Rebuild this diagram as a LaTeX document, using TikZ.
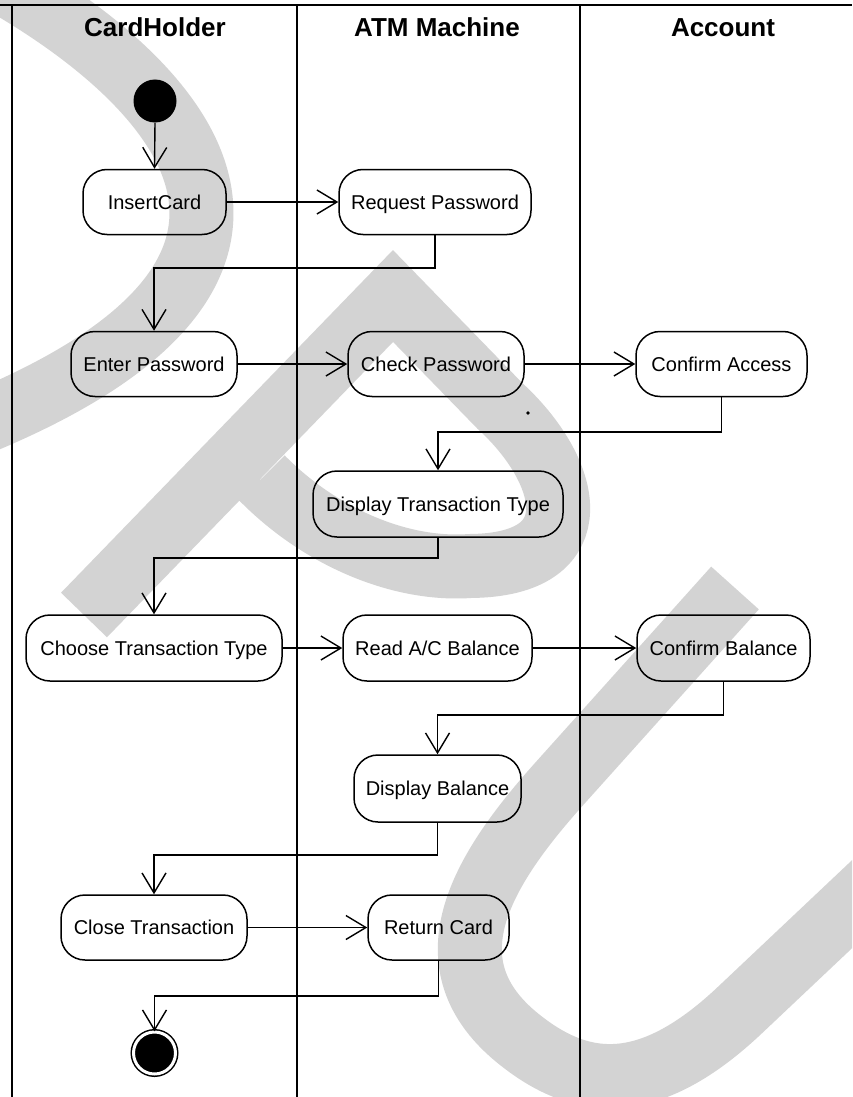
\documentclass[tikz,border=0pt]{standalone}
\usepackage{fontspec}
\setmainfont{Liberation Sans}
\usetikzlibrary{arrows.meta}
\definecolor{wmgray}{RGB}{211,211,211}
\begin{document}
\begin{tikzpicture}[x=1pt,y=-1pt,
  lane/.style={line width=1.4pt},
  act/.style={draw, line width=1.5pt, rounded corners=24pt, minimum height=65pt,
    inner sep=0pt, text height=15pt, text depth=1pt,
    font=\fontsize{20}{24}\selectfont},
  flow/.style={line width=1.4pt, -{Straight Barb[length=20pt,width=24pt]}},
  head/.style={font=\fontsize{26}{30}\selectfont\bfseries, anchor=base},
  wm/.style={line width=64pt, draw=wmgray, line cap=butt, line join=miter}
]
\useasboundingbox (0,0) rectangle (852,1097);

% light grey lettering in the background
\begin{scope}
  \clip (0,0) rectangle (852,1097);
  \draw[wm] (-10,-25) .. controls (180,80) and (360,270) .. (-30,427);
  \draw[wm] (84,615) -- (393,296) -- (500,406)
     .. controls (570,470) and (595,565) .. (470,566)
     .. controls (400,571) and (320,537) .. (262,478);
  \draw[wm] (735,588) -- (560,783)
     .. controls (480,872) and (425,965) .. (520,1040)
     .. controls (583,1090) and (650,1095) .. (740,1010) -- (920,840);
\end{scope}

% swimlane frame
\draw[line width=1.3pt] (0,5) -- (852,5);
\draw[line width=2.5pt] (12,5) -- (12,1097);
\draw[lane] (297,5) -- (297,1097);
\draw[lane] (580,5) -- (580,1097);

% lane titles
\node[head] (h1) at (155,37) {CardHolder};
\node[head] (h2) at (437,37) {ATM Machine};
\node[head] (h3) at (723,37) {Account};

% initial and final states
\node[circle, fill=black, minimum size=43pt, inner sep=0pt] (start) at (155,101) {};
\node[circle, fill=black, draw=black, line width=1.5pt, double=white,
  double distance=3pt, minimum size=42pt, inner sep=0pt] (end) at (154.5,1053) {};

% activities
\node[act, minimum width=143pt] (insert)   at (154.5,202) {InsertCard};
\node[act, minimum width=192pt] (request)  at (435,202)   {Request Password};
\node[act, minimum width=166pt] (enter)    at (154,364)   {Enter Password};
\node[act, minimum width=176pt] (check)    at (436,364)   {Check Password};
\node[act, minimum width=171pt] (confirmA) at (721.5,364) {Confirm Access};
\node[act, minimum width=250pt, minimum height=66pt] (dtt) at (438,504) {Display Transaction Type};
\node[act, minimum width=256pt, minimum height=66pt] (choose) at (154,648) {Choose Transaction Type};
\node[act, minimum width=189pt, minimum height=66pt] (read) at (437.5,648) {Read A/C Balance};
\node[act, minimum width=173pt, minimum height=66pt] (confirmB) at (723.5,648) {Confirm Balance};
\node[act, minimum width=167pt, minimum height=67pt] (dbal) at (437.5,788.5) {Display Balance};
\node[act, minimum width=186pt] (close)    at (154,927.5) {Close Transaction};
\node[act, minimum width=141pt] (ret)      at (438.5,927.5) {Return Card};

% bend levels of the routed flows
\coordinate (k1) at (0,268);
\coordinate (k2) at (0,432);
\coordinate (k3) at (0,558);
\coordinate (k4) at (0,715);
\coordinate (k5) at (0,855);
\coordinate (k6) at (0,996);

% control flows
\draw[flow] (start.south) -- (insert.north);
\draw[flow] (insert.east) -- (request.west);
\draw[flow] (request.south) -- (request.south |- k1) -| (enter.north);
\draw[flow] (enter.east) -- (check.west);
\draw[flow] (check.east) -- (confirmA.west);
\draw[flow] (confirmA.south) -- (confirmA.south |- k2) -| (dtt.north);
\draw[flow] (dtt.south) -- (dtt.south |- k3) -| (choose.north);
\draw[flow] (choose.east) -- (read.west);
\draw[flow] (read.east) -- (confirmB.west);
\draw[flow] (confirmB.south) -- (confirmB.south |- k4) -| (dbal.north);
\draw[flow] (dbal.south) -- (dbal.south |- k5) -| (close.north);
\draw[flow] (close.east) -- (ret.west);
\draw[flow] (ret.south) -- (ret.south |- k6) -| (end.north);

% stray dot
\fill (528,413) circle (1.8pt);
\end{tikzpicture}
\end{document}
